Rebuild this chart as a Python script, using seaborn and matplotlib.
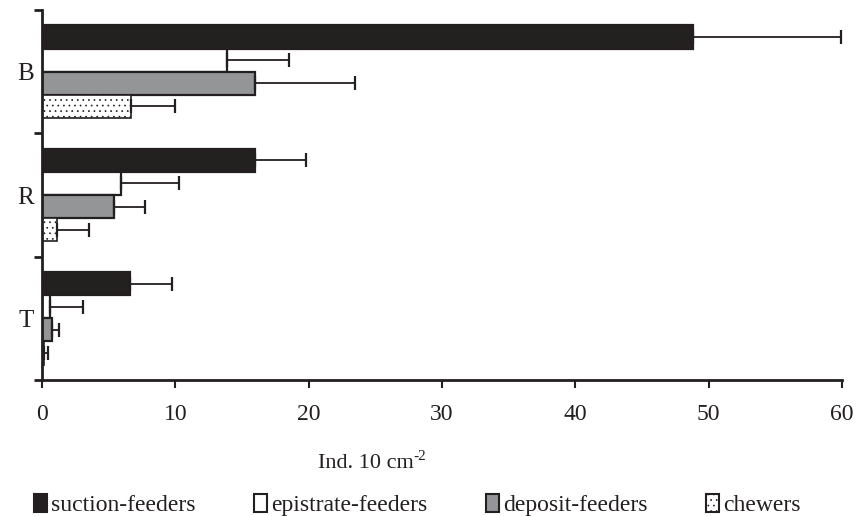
import numpy as np
import pandas as pd
import matplotlib
matplotlib.use("Agg")
import matplotlib.pyplot as plt
from matplotlib.patches import Patch
from matplotlib.ticker import FixedLocator
import seaborn as sns

# Data
sites = ["B", "R", "T"]
groups = ["suction-feeders", "epistrate-feeders", "deposit-feeders", "chewers"]
means = {
    "suction-feeders":   [48.8, 16.0, 6.6],
    "epistrate-feeders": [13.9, 5.9, 0.6],
    "deposit-feeders":   [16.0, 5.4, 0.75],
    "chewers":           [6.7, 1.1, 0.15],
}
upper_err = {
    "suction-feeders":   [11.1, 3.8, 3.15],
    "epistrate-feeders": [4.6, 4.4, 2.45],
    "deposit-feeders":   [7.5, 2.3, 0.55],
    "chewers":           [3.3, 2.4, 0.3],
}

rows = []
for g in groups:
    for s, m, e in zip(sites, means[g], upper_err[g]):
        rows.append({"site": s, "group": g, "value": m, "err": e})
df = pd.DataFrame(rows)

sns.set_theme(style="white")
plt.rcParams["font.family"] = ["Liberation Serif", "DejaVu Serif"]
plt.rcParams["hatch.color"] = "#6d6e71"
plt.rcParams["hatch.linewidth"] = 0.5

ink = "#231f20"
colors = {"suction-feeders": ink, "epistrate-feeders": "#ffffff",
          "deposit-feeders": "#939598", "chewers": "#ffffff"}

fig = plt.figure(figsize=(8.56, 5.16), dpi=100)
ax = fig.add_axes([42 / 856, 1 - 380 / 516, 800 / 856, 370 / 516])

sns.barplot(data=df, y="site", x="value", hue="group", order=sites,
            hue_order=groups, palette=colors, width=0.75, orient="h",
            edgecolor=ink, linewidth=1.6, errorbar=None, legend=False, ax=ax)

# dotted fill for chewers, error bars on the positive side only
for g, cont in zip(groups, ax.containers):
    errs = df[df["group"] == g]["err"].values
    ys, xs = [], []
    for bar in cont:
        ys.append(bar.get_y() + bar.get_height() / 2)
        xs.append(bar.get_width())
        if g == "chewers":
            bar.set_hatch("...")
            bar.set_linewidth(1.2)
    ax.errorbar(xs, ys, xerr=[np.zeros(len(errs)), errs], fmt="none",
                ecolor=ink, elinewidth=1.3, capsize=5, capthick=1.6)

ax.set_xlim(0, 60)
ax.set_ylim(2.5, -0.5)
ax.set_xticks(range(0, 61, 10))
ax.yaxis.set_major_locator(FixedLocator([0, 1, 2]))
ax.yaxis.set_minor_locator(FixedLocator([-0.5, 0.5, 1.5, 2.5]))
ax.set_yticklabels(sites)
ax.tick_params(axis="y", which="major", length=0, pad=6, labelsize=18, labelcolor=ink)
ax.tick_params(axis="y", which="minor", length=6, width=2, color=ink, left=True)
ax.tick_params(axis="x", length=6, width=1.5, color=ink, bottom=True,
               pad=11, labelsize=17, labelcolor=ink)
for side in ["top", "right"]:
    ax.spines[side].set_visible(False)
for side in ["left", "bottom"]:
    ax.spines[side].set_color(ink)
    ax.spines[side].set_linewidth(2)
ax.set_ylabel("")
ax.set_xlabel("")

# axis title with a plain hyphen superscript
t1 = fig.text(318 / 856, 1 - 463 / 516, "Ind. 10 cm", ha="left", va="center",
              fontsize=16, color=ink)
fig.canvas.draw()
bb = t1.get_window_extent()
fig.text(bb.x1 / fig.bbox.width, 1 - 456 / 516, "-2", ha="left", va="center",
         fontsize=11, color=ink)

handles = [Patch(facecolor=colors[g], edgecolor=ink, linewidth=1.5,
                 hatch="..." if g == "chewers" else None) for g in groups]
fig.legend(handles, groups, loc="center left", bbox_to_anchor=(0.04, 1 - 505 / 516),
           ncol=4, frameon=False, fontsize=17, handlelength=0.55, handleheight=0.8,
           handletextpad=0.15, columnspacing=2.5, borderaxespad=0, borderpad=0,
           labelcolor=ink)

fig.savefig("out.png", dpi=100)
